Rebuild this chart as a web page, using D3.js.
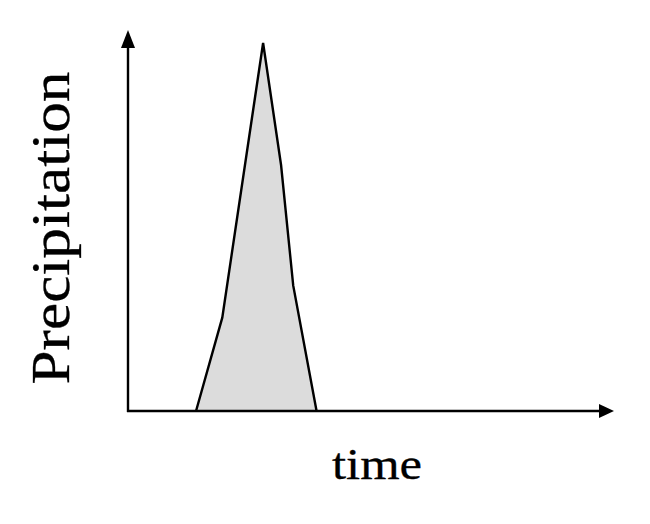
<!DOCTYPE html>
<html lang="en">
<head>
<meta charset="UTF-8">
<title>Precipitation</title>
<script src="https://cdn.jsdelivr.net/npm/d3@7"></script>
<style>
  body { margin: 0; background: #fff; }
  .lbl { font-family: "Liberation Serif", "Times New Roman", Times, serif; fill: #000; stroke: #000; stroke-width: 0.3px; }
</style>
</head>
<body>
<div id="chart"></div>
<script>
// hyetograph outline (arbitrary units 0-100)
const timeVals   = [14.0, 19.4, 27.8, 31.5, 34.0, 38.8];
const precipVals = [0,    24.5, 96.6, 64.5, 32.9, 0];
const xLabel = "time";
const yLabel = "Precipitation";

const margin = {top: 30, right: 36, bottom: 113, left: 128},
    width = 650 - margin.left - margin.right,
    height = 524 - margin.top - margin.bottom;

const svgRoot = d3.select("#chart")
  .append("svg")
    .attr("width", 650)
    .attr("height", 524);

const svg = svgRoot.append("g")
    .attr("transform", `translate(${margin.left},${margin.top})`);

const x = d3.scaleLinear().domain([0, 100]).range([0, width]);
const y = d3.scaleLinear().domain([0, 100]).range([height, 0]);

const data = timeVals.map((t, i) => ({t: t, p: precipVals[i]}));

// filled shape
const area = d3.area()
  .x(d => x(d.t))
  .y0(y(0))
  .y1(d => y(d.p));
svg.append("path")
  .datum(data)
  .attr("d", area)
  .attr("fill", "#dcdcdc");

const line = d3.line()
  .x(d => x(d.t))
  .y(d => y(d.p));
svg.append("path")
  .datum(data)
  .attr("d", line)
  .attr("fill", "none")
  .attr("stroke", "#000")
  .attr("stroke-width", 2.4);

// axes with arrow heads
const x0 = x(0), y0 = y(0), xEnd = x(100), yEnd = y(100);
svg.append("line")
  .attr("x1", x0).attr("y1", y0 + 1)
  .attr("x2", x0).attr("y2", yEnd + 10)
  .attr("stroke", "#000").attr("stroke-width", 2.4);
svg.append("line")
  .attr("x1", x0 - 1).attr("y1", y0)
  .attr("x2", xEnd - 10).attr("y2", y0)
  .attr("stroke", "#000").attr("stroke-width", 2.4);

svg.append("path")
  .attr("d", `M${x0},${yEnd} L${x0 - 7},${yEnd + 18} L${x0 + 7},${yEnd + 18} Z`)
  .attr("fill", "#000");
svg.append("path")
  .attr("d", `M${xEnd},${y0} L${xEnd - 15},${y0 - 7} L${xEnd - 15},${y0 + 7} Z`)
  .attr("fill", "#000");

// labels
svgRoot.append("text")
  .attr("class", "lbl")
  .attr("transform", "translate(69,228) rotate(-90)")
  .attr("text-anchor", "middle")
  .style("font-size", "55px")
  .attr("textLength", 313)
  .attr("lengthAdjust", "spacingAndGlyphs")
  .text(yLabel);

svgRoot.append("text")
  .attr("class", "lbl")
  .attr("x", 377)
  .attr("y", 479)
  .attr("text-anchor", "middle")
  .style("font-size", "45px")
  .attr("textLength", 90)
  .attr("lengthAdjust", "spacingAndGlyphs")
  .text(xLabel);
</script>
</body>
</html>
